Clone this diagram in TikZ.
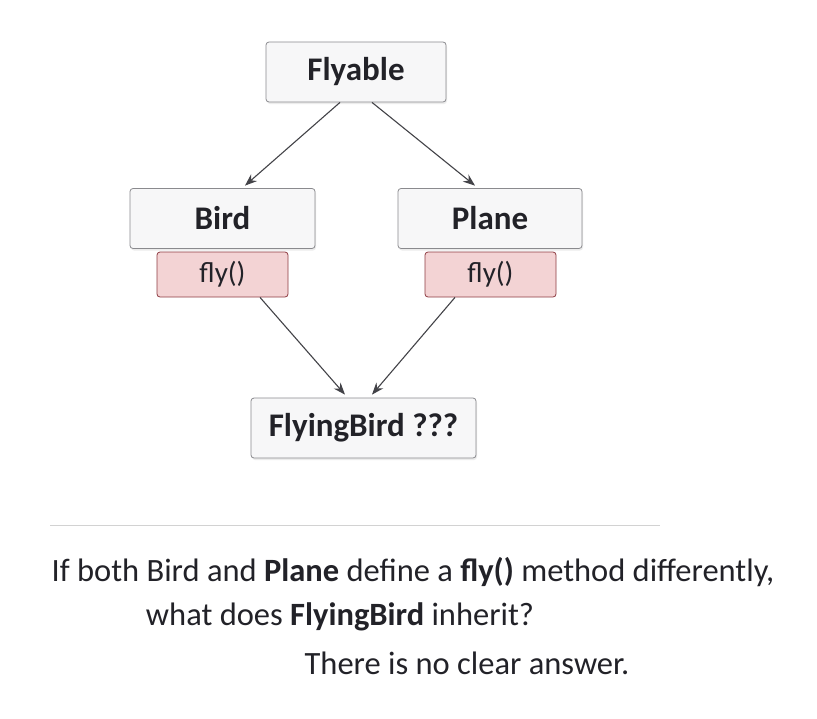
\documentclass[tikz,border=0pt]{standalone}
\usepackage{fontspec}
\setmainfont{Carlito}
\usetikzlibrary{arrows.meta,shadows,calc}
\definecolor{boxfill}{HTML}{F7F7F8}
\definecolor{boxdraw}{HTML}{8A8A8E}
\definecolor{flyfill}{HTML}{F3D3D4}
\definecolor{flydraw}{HTML}{8E3C42}
\definecolor{txt}{HTML}{222228}
\begin{document}
\begin{tikzpicture}[x=1pt,y=-1pt,
  cls/.style={draw=boxdraw,fill=boxfill,rounded corners=3pt,line width=0.8pt,
    minimum height=60pt,text=txt,font=\fontsize{33}{38}\selectfont\bfseries,
    drop shadow={opacity=0.15,shadow xshift=1pt,shadow yshift=-2pt}},
  meth/.style={draw=flydraw,fill=flyfill,rounded corners=3pt,line width=0.8pt,
    minimum width=131pt,minimum height=45pt,text=txt,font=\fontsize{29}{33}\selectfont},
  arr/.style={draw=txt!85,line width=1.1pt,-{Stealth[length=12pt,width=9pt]}},
  body/.style={text=txt,font=\fontsize{32.5}{38}\selectfont,inner sep=0pt}]
\useasboundingbox (0,0) rectangle (817,718);
\fill[white] (0,0) rectangle (817,718);
\node[cls,minimum width=180pt] (fly) at (356,72) {Flyable};
\node[cls,minimum width=185pt] (bird) at (222.5,218.5) {Bird};
\node[cls,minimum width=184pt] (plane) at (490,218.5) {Plane};
\node[meth] (bfly) at (222.5,274.5) {fly()};
\node[meth] (pfly) at (490.5,274.5) {fly()};
\node[cls,minimum width=225pt] (fb) at (363.5,428) {FlyingBird ???};
\draw[arr] ($(fly.south)+(-16,0)$) -- ($(bird.north)+(22.5,-2.5)$);
\draw[arr] ($(fly.south)+(16,0)$) -- ($(plane.north)+(-15,-2.5)$);
\draw[arr] ($(bfly.south)+(37.5,0)$) -- ($(fb.north)+(-18.5,-3)$);
\draw[arr] ($(pfly.south)+(-35.5,0)$) -- ($(fb.north)+(8.5,-3)$);
\draw[gray!35,line width=0.8pt] (50,525) -- (660,525);
\node[body] (t1) at (413,572) {If both Bird and \textbf{Plane} define a \textbf{fly()} method differently,};
\node[body] (t2) at (340,617) {what does \textbf{FlyingBird} inherit?};
\node[body] (t3) at (467,663) {There is no clear answer.};
\end{tikzpicture}
\end{document}
